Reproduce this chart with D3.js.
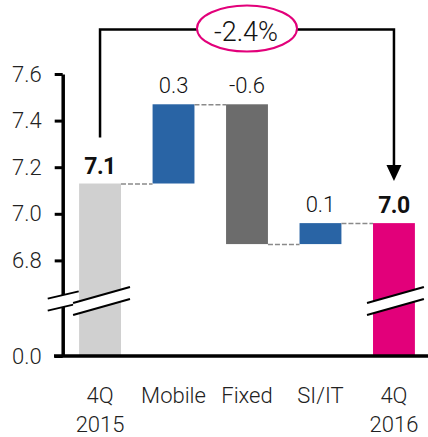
<!DOCTYPE html>
<html>
<head>
<meta charset="utf-8">
<script src="https://cdn.jsdelivr.net/npm/d3@7"></script>
<style>
  html, body { margin: 0; padding: 0; background: #fff; }
  svg { display: block; font-family: Roboto, "Liberation Sans", Arial, sans-serif; font-weight: 300; }
</style>
</head>
<body>
<div class="draw"></div>
<script>
// bridge data, values in billions
var categories = ['4Q 2015', 'Mobile', 'Fixed', 'SI/IT', '4Q 2016'];
var categoryLines = [['4Q', '2015'], ['Mobile'], ['Fixed'], ['SI/IT'], ['4Q', '2016']];
var startValue = 7.13;
var deltas = [0.34, -0.60, 0.09];
var endValue = 6.96;
var tickValues = [0, 6.8, 7.0, 7.2, 7.4, 7.6];
var colors = ['#d0d0d0', '#2964a5', '#6c6c6c', '#2964a5', '#e2007a'];

var size = { w: 428, h: 437 };
var fmt = d3.formatLocale({ decimal: '.', thousands: ',', grouping: [3], currency: ['', ''], minus: '-' });
var f1 = fmt.format('.1f');
var fPct = fmt.format('.1%');

// build bars: [from, to]
var bars = [];
bars.push({ cat: categories[0], y0: 0, y1: startValue, label: f1(startValue), total: true });
var level = startValue;
deltas.forEach(function(d, i) {
  bars.push({ cat: categories[i + 1], y0: level, y1: level + d, label: f1(d), total: false });
  level += d;
});
bars.push({ cat: categories[4], y0: 0, y1: endValue, label: f1(endValue), total: true });

var x = d3.scaleBand()
  .domain(categories)
  .range([47.5, 446.5])
  .paddingInner(0.43)
  .paddingOuter(0.43);

// broken axis: 0 .. 6.6 squeezed into the bottom
var y = d3.scaleLinear()
  .domain([0, 6.6, 7.6])
  .range([356, 307, 74]);

var svg = d3.select('.draw').append('svg')
  .attr('width', size.w)
  .attr('height', size.h);

// bars
svg.selectAll('rect.bar').data(bars).enter().append('rect')
  .attr('class', 'bar')
  .attr('x', function(d) { return x(d.cat); })
  .attr('width', x.bandwidth())
  .attr('y', function(d) { return y(Math.max(d.y0, d.y1)); })
  .attr('height', function(d) { return Math.abs(y(d.y0) - y(d.y1)); })
  .attr('fill', function(d, i) { return colors[i]; });

// dashed connectors
var links = [];
for (var i = 0; i < bars.length - 1; i++) {
  links.push({ a: bars[i], b: bars[i + 1], v: bars[i].y1 });
}
svg.selectAll('line.link').data(links).enter().append('line')
  .attr('class', 'link')
  .attr('x1', function(d) { return x(d.a.cat) + x.bandwidth(); })
  .attr('x2', function(d) { return x(d.b.cat); })
  .attr('y1', function(d) { return y(d.v) + 0.5; })
  .attr('y2', function(d) { return y(d.v) + 0.5; })
  .attr('stroke', '#8a8a8a')
  .attr('stroke-width', 1.5)
  .attr('stroke-dasharray', '5,2');

// value labels
svg.selectAll('text.val').data(bars).enter().append('text')
  .attr('class', 'val')
  .attr('x', function(d) { return x(d.cat) + x.bandwidth() / 2; })
  .attr('y', function(d) { return y(Math.max(d.y0, d.y1)) - (d.total ? 10 : 11); })
  .attr('text-anchor', 'middle')
  .attr('font-size', function(d) { return d.total ? 23 : 22; })
  .attr('font-weight', function(d) { return d.total ? 'bold' : 300; })
  .attr('letter-spacing', function(d) { return d.total ? -0.5 : 0; })
  .attr('fill', '#111')
  .text(function(d) { return d.label; });

// y axis
var axisX = 62.7;
var yAxis = svg.append('g')
  .attr('transform', 'translate(' + axisX + ',0)')
  .call(d3.axisLeft(y).tickValues(tickValues).tickFormat(f1).tickSize(8).tickSizeOuter(0).tickPadding(13));
yAxis.select('.domain').attr('stroke', '#000').attr('stroke-width', 3.5);
yAxis.selectAll('.tick line').attr('stroke', '#000').attr('stroke-width', 3);
yAxis.selectAll('.tick text')
  .attr('font-size', 22)
  .attr('font-family', 'Roboto, "Liberation Sans", Arial, sans-serif')
  .attr('font-weight', 300)
  .attr('fill', '#222');

// baseline
svg.append('line')
  .attr('x1', 54).attr('x2', size.w)
  .attr('y1', y(0)).attr('y2', y(0))
  .attr('stroke', '#000').attr('stroke-width', 3.5);

// axis break marks
var breakY = 301;
function drawBreak(x0, x1, slope) {
  var cx = (x0 + x1) / 2;
  var gap = 6;
  var yAt = function(xx, off) { return breakY + off + (xx - cx) * slope; };
  svg.append('path')
    .attr('d', 'M' + x0 + ',' + yAt(x0, -gap) + 'L' + x1 + ',' + yAt(x1, -gap) +
      'L' + x1 + ',' + yAt(x1, gap) + 'L' + x0 + ',' + yAt(x0, gap) + 'Z')
    .attr('fill', '#fff');
  [-gap, gap].forEach(function(off) {
    svg.append('line')
      .attr('x1', x0).attr('y1', yAt(x0, off))
      .attr('x2', x1).attr('y2', yAt(x1, off))
      .attr('stroke', '#000').attr('stroke-width', 2);
  });
}
drawBreak(axisX - 15, axisX + 16, -0.235);
[bars[0], bars[4]].forEach(function(d) {
  drawBreak(x(d.cat) - 6, x(d.cat) + x.bandwidth() + 9, -0.28);
});

// category labels
var cats = svg.selectAll('text.cat').data(categoryLines).enter().append('text')
  .attr('class', 'cat')
  .attr('text-anchor', 'middle')
  .attr('font-size', 22)
  .attr('fill', '#222')
  .attr('transform', function(d, i) { return 'translate(' + (x(categories[i]) + x.bandwidth() / 2) + ',403)'; });
cats.selectAll('tspan').data(function(d) { return d; }).enter().append('tspan')
  .attr('x', 0)
  .attr('y', function(d, i) { return i * 29; })
  .text(function(d) { return d; });

// change bracket
var xa = x(categories[0]) + x.bandwidth() / 2;
var xb = x(categories[4]) + x.bandwidth() / 2;
var topY = 29.5;
svg.append('path')
  .attr('d', 'M' + xa + ',' + (y(startValue) - 46) + 'V' + topY + 'H' + xb + 'V' + (y(endValue) - 56))
  .attr('fill', 'none')
  .attr('stroke', '#000')
  .attr('stroke-width', 2.5);
svg.append('path')
  .attr('d', 'M' + (xb - 7.5) + ',' + (y(endValue) - 58) + 'L' + (xb + 7.5) + ',' + (y(endValue) - 58) +
    'L' + xb + ',' + (y(endValue) - 42) + 'Z')
  .attr('fill', '#000');

var pct = (endValue - startValue) / startValue;
svg.append('ellipse')
  .attr('cx', 247).attr('cy', 28.5)
  .attr('rx', 50).attr('ry', 23)
  .attr('fill', '#fff')
  .attr('stroke', '#e2007a')
  .attr('stroke-width', 2);
svg.append('text')
  .attr('x', 246).attr('y', 40.5)
  .attr('text-anchor', 'middle')
  .attr('font-size', 27)
  .attr('fill', '#111')
  .text(fPct(pct));
</script>
</body>
</html>
